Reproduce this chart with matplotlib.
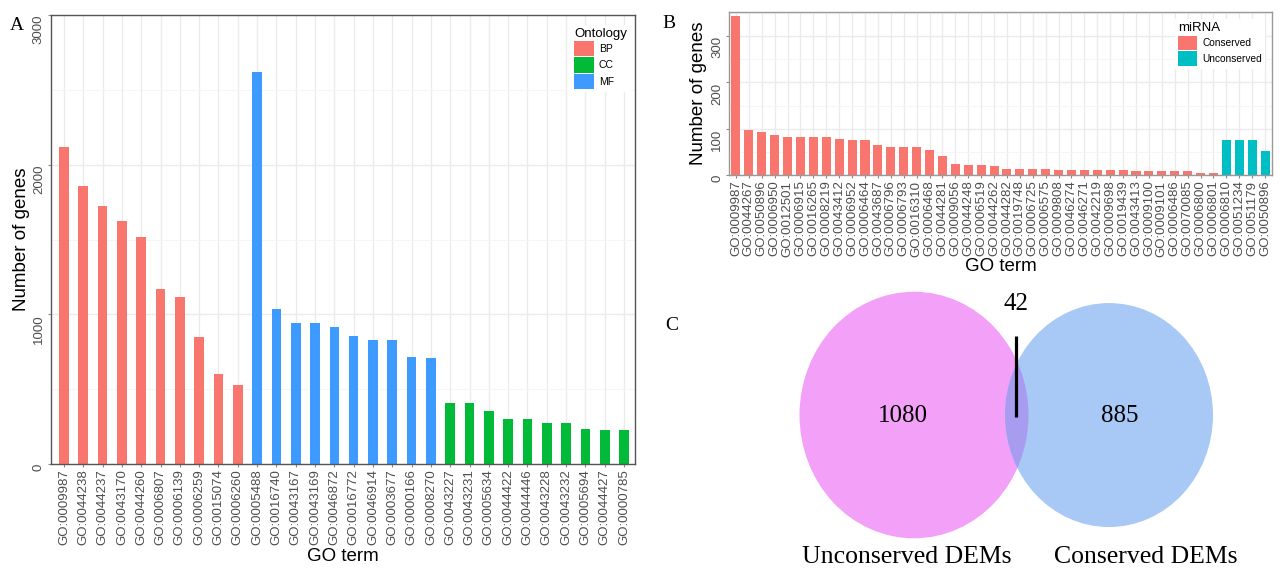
import numpy as np
from matplotlib import pyplot as plt
from matplotlib.patches import Patch, Circle
from matplotlib.ticker import MultipleLocator

# Panel A: GO terms by ontology
a_terms = ["GO:0009987", "GO:0044238", "GO:0044237", "GO:0043170", "GO:0044260",
           "GO:0006807", "GO:0006139", "GO:0006259", "GO:0015074", "GO:0006260",
           "GO:0005488", "GO:0016740", "GO:0043167", "GO:0043169", "GO:0046872",
           "GO:0016772", "GO:0046914", "GO:0003677", "GO:0000166", "GO:0008270",
           "GO:0043227", "GO:0043231", "GO:0005634", "GO:0044422", "GO:0044446",
           "GO:0043228", "GO:0043232", "GO:0005694", "GO:0044427", "GO:0000785"]
a_counts = [2120, 1855, 1721, 1621, 1520, 1168, 1119, 849, 604, 530,
            2622, 1034, 943, 943, 914, 858, 829, 829, 718, 709,
            408, 408, 357, 301, 301, 272, 272, 231, 229, 229]
a_onto = ["BP"] * 10 + ["MF"] * 10 + ["CC"] * 10
onto_names = ["BP", "CC", "MF"]
onto_colors = {"BP": "#F8766D", "CC": "#00BA38", "MF": "#3D9BFF"}

# Panel B: GO terms by miRNA type
b_terms = ["GO:0009987", "GO:0044267", "GO:0050896", "GO:0006950", "GO:0012501",
           "GO:0006915", "GO:0016265", "GO:0008219", "GO:0043412", "GO:0006952",
           "GO:0006464", "GO:0043687", "GO:0006796", "GO:0006793", "GO:0016310",
           "GO:0006468", "GO:0044281", "GO:0009056", "GO:0044248", "GO:0006519",
           "GO:0044262", "GO:0044282", "GO:0019748", "GO:0006725", "GO:0006575",
           "GO:0009808", "GO:0046274", "GO:0046271", "GO:0042219", "GO:0009698",
           "GO:0019439", "GO:0043413", "GO:0009100", "GO:0009101", "GO:0006486",
           "GO:0070085", "GO:0006800", "GO:0006801", "GO:0006810", "GO:0051234",
           "GO:0051179", "GO:0050896"]
b_counts = [343, 97, 92, 87, 81, 81, 81, 81, 78, 76,
            76, 65, 61, 61, 60, 55, 40, 24, 22, 22,
            19, 14, 12, 12, 12, 11, 11, 11, 11, 11,
            11, 8, 8, 8, 8, 8, 4, 4, 76, 76,
            76, 51]
b_mirna = ["Conserved"] * 38 + ["Unconserved"] * 4
mirna_names = ["Conserved", "Unconserved"]
mirna_colors = {"Conserved": "#F8766D", "Unconserved": "#00BFC4"}

# Panel C: venn
venn_sets = ["Unconserved DEMs", "Conserved DEMs"]
venn_only = [1080, 885]
venn_both = 42

plt.rcParams['font.family'] = ['Liberation Sans', 'DejaVu Sans']
W, H = 1286, 569
fig = plt.figure(figsize=(W / 100, H / 100), dpi=100)
tick_col = '#4D4D4D'
serif = ['Liberation Serif', 'DejaVu Serif']


def style_axes(ax, border):
    for s in ax.spines.values():
        s.set_color(border)
        s.set_linewidth(1.0)
    ax.set_axisbelow(True)
    ax.grid(which='major', color='#EBEBEB', lw=1.0)
    ax.grid(which='minor', axis='y', color='#F4F4F4', lw=0.6)
    ax.tick_params(which='major', length=2.5, pad=1.5, color='#888888',
                   labelcolor=tick_col, labelsize=9.5)
    ax.tick_params(which='minor', length=0)


########## A ##########
axA = fig.add_axes([50.5 / W, 1 - 464 / H, (635 - 50.5) / W, (464 - 15) / H])
xa = np.arange(len(a_terms))
axA.bar(xa, a_counts, width=0.5, color=[onto_colors[o] for o in a_onto])
axA.set_xlim(-0.7, len(xa) - 1 + 0.57)
axA.set_ylim(0, 3000)
axA.set_yticks([0, 1000, 2000, 3000])
axA.yaxis.set_minor_locator(MultipleLocator(500))
axA.set_yticklabels(["0", "1000", "2000", "3000"], rotation=90, va='top')
axA.set_xticks(xa)
axA.set_xticklabels(a_terms, rotation=90, fontsize=9.5)
style_axes(axA, '#555555')
axA.set_ylabel("Number of genes", fontsize=13.5, labelpad=2)
axA.set_xlabel("GO term", fontsize=13.5, labelpad=1.5)
axA.legend([Patch(facecolor=onto_colors[n], edgecolor='none') for n in onto_names],
           onto_names, title="Ontology", loc='upper left',
           bbox_to_anchor=(566 / W, 1 - 20 / H), bbox_transform=fig.transFigure,
           fontsize=7.5, title_fontsize=9.5, frameon=True, fancybox=False,
           edgecolor='none', framealpha=1, handlelength=1.85, handleheight=1.85,
           labelspacing=0.1, handletextpad=0.5, borderpad=0.3, alignment='left')

########## B ##########
axB = fig.add_axes([729 / W, 1 - 175 / H, (1272 - 729) / W, (175 - 12) / H])
xb = np.arange(len(b_terms))
axB.bar(xb, b_counts, width=0.7, color=[mirna_colors[m] for m in b_mirna])
axB.set_xlim(-0.54, len(xb) - 1 + 0.54)
axB.set_ylim(0, 352)
axB.set_yticks([0, 100, 200, 300])
axB.yaxis.set_minor_locator(MultipleLocator(50))
axB.set_yticklabels(["0", "100", "200", "300"], rotation=90, va='top')
axB.set_xticks(xb)
axB.set_xticklabels(b_terms, rotation=90, fontsize=9.5)
style_axes(axB, '#999999')
axB.set_ylabel("Number of genes", fontsize=13.5, labelpad=3)
axB.set_xlabel("GO term", fontsize=13.5, labelpad=1)
axB.legend([Patch(facecolor=mirna_colors[n], edgecolor='none') for n in mirna_names],
           mirna_names, title="miRNA", loc='upper left',
           bbox_to_anchor=(1170 / W, 1 - 14 / H), bbox_transform=fig.transFigure,
           fontsize=7.3, title_fontsize=9.5, frameon=True, fancybox=False,
           edgecolor='none', framealpha=1, handlelength=1.9, handleheight=1.8,
           labelspacing=0.15, handletextpad=0.5, borderpad=0.3, alignment='left')

########## C ##########
axC = fig.add_axes([690 / W, 0, (W - 690) / W, 295 / H])
axC.set_xlim(690, W)
axC.set_ylim(H, 295)
axC.axis('off')
left = Circle((914, 426), 114.5, facecolor='#F3A0F8', edgecolor='none')
right = Circle((1109, 426), 104, facecolor='#A8C8F5', edgecolor='none')
axC.add_patch(left)
axC.add_patch(right)
overlap = Circle((1109, 426), 104, facecolor='#A89CF0', edgecolor='none')
axC.add_patch(overlap)
overlap.set_clip_path(left)

axC.text(903, 427, str(venn_only[0]), ha='center', va='center', fontsize=18, family=serif)
axC.text(1120, 427, str(venn_only[1]), ha='center', va='center', fontsize=18, family=serif)
axC.text(1016, 323, str(venn_both), ha='center', va='center', fontsize=18, family=serif)
axC.plot([1016, 1016], [353, 428], color='black', lw=2.3, solid_capstyle='butt')
axC.text(907, 558, venn_sets[0], ha='center', va='center', fontsize=18.5, family=serif, clip_on=False)
axC.text(1146, 558, venn_sets[1], ha='center', va='center', fontsize=18.5, family=serif, clip_on=False)

# panel letters
fig.text(17 / W, 1 - 25 / H, "A", fontsize=14, family=serif, ha='center', va='center')
fig.text(669 / W, 1 - 24 / H, "B", fontsize=14, family=serif, ha='center', va='center')
fig.text(672 / W, 1 - 325 / H, "C", fontsize=14, family=serif, ha='center', va='center')

fig.savefig('out.png', dpi=100)
